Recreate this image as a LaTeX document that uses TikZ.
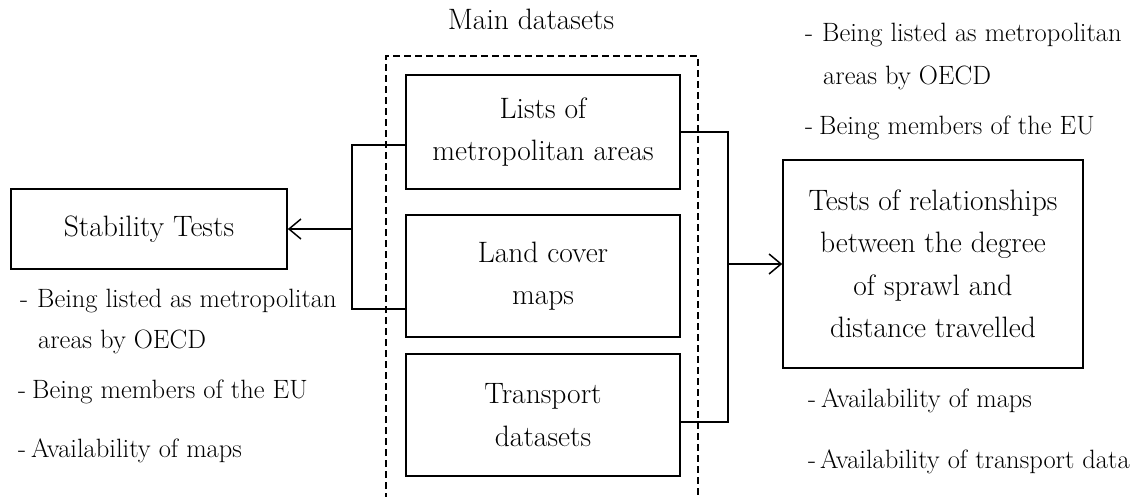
\documentclass[tikz,border=0pt]{standalone}
\usetikzlibrary{arrows.meta}
\begin{document}
\begin{tikzpicture}[x=1pt,y=-1pt,
  txt/.style={font=\fontsize{26.5}{42}\selectfont, inner sep=0pt},
  big/.style={font=\fontsize{29.5}{42.5}\selectfont, inner sep=0pt},
  box/.style={big, draw, line width=1.6pt, align=center},
  lbl/.style={txt, anchor=base west},
  conn/.style={line width=1.5pt},
  arr/.style={conn, -{Straight Barb[length=12pt,width=20pt,line width=1.5pt]}},
  dbox/.style={line width=1.3pt, dash pattern=on 7pt off 4pt}]
\useasboundingbox (0,0) rectangle (1147,497);

% dashed container
\draw[dbox] (386,500) -- (386,56) -- (698,56) -- (698,500);
\node[big, anchor=base] (title) at (531,30) {Main datasets};

% boxes
\node[box, minimum width=276pt, minimum height=80pt] (stab) at (149,229) {Stability Tests};
\node[box, minimum width=274pt, minimum height=114pt] (lists) at (543,132) {Lists of\\metropolitan areas};
\node[box, minimum width=274pt, minimum height=122pt] (land) at (543,276) {Land cover\\maps};
\node[box, minimum width=274pt, minimum height=122pt] (trans) at (543,415) {Transport\\datasets};
\node[box, minimum width=300pt, minimum height=208pt] (tests) at (933,264) {Tests of relationships\\between the degree\\of sprawl and\\distance travelled};

% junctions
\coordinate (lj) at (352,229);
\coordinate (rj) at (728,264);

% connectors
\draw[conn] ([yshift=-13pt]lists.west) -| (lj) |- ([yshift=-33pt]land.west);
\draw[arr] (lj) -- (stab.east);
\draw[conn] (lists.east) -| (rj) |- ([yshift=-7pt]trans.east);
\draw[arr] (rj) -- (tests.west);

% left labels
\node[lbl] (l1) at (20,307) {-\hspace{9pt}Being listed as metropolitan};
\node[lbl] (l2) at (38,348) {areas by OECD};
\node[lbl] (l3) at (18,398) {-\hspace{6pt}Being members of the EU};
\node[lbl] (l4) at (18,457) {-\hspace{5pt}Availability of maps};

% right labels
\node[lbl] (r1) at (805,42) {-\hspace{9pt}Being listed as metropolitan};
\node[lbl] (r2) at (823,85) {areas by OECD};
\node[lbl] (r3) at (805,135) {-\hspace{6pt}Being members of the EU};
\node[lbl] (r4) at (808,407) {-\hspace{5pt}Availability of maps};
\node[lbl] (r5) at (808,468) {-\hspace{4pt}Availability of transport data};
\end{tikzpicture}
\end{document}
